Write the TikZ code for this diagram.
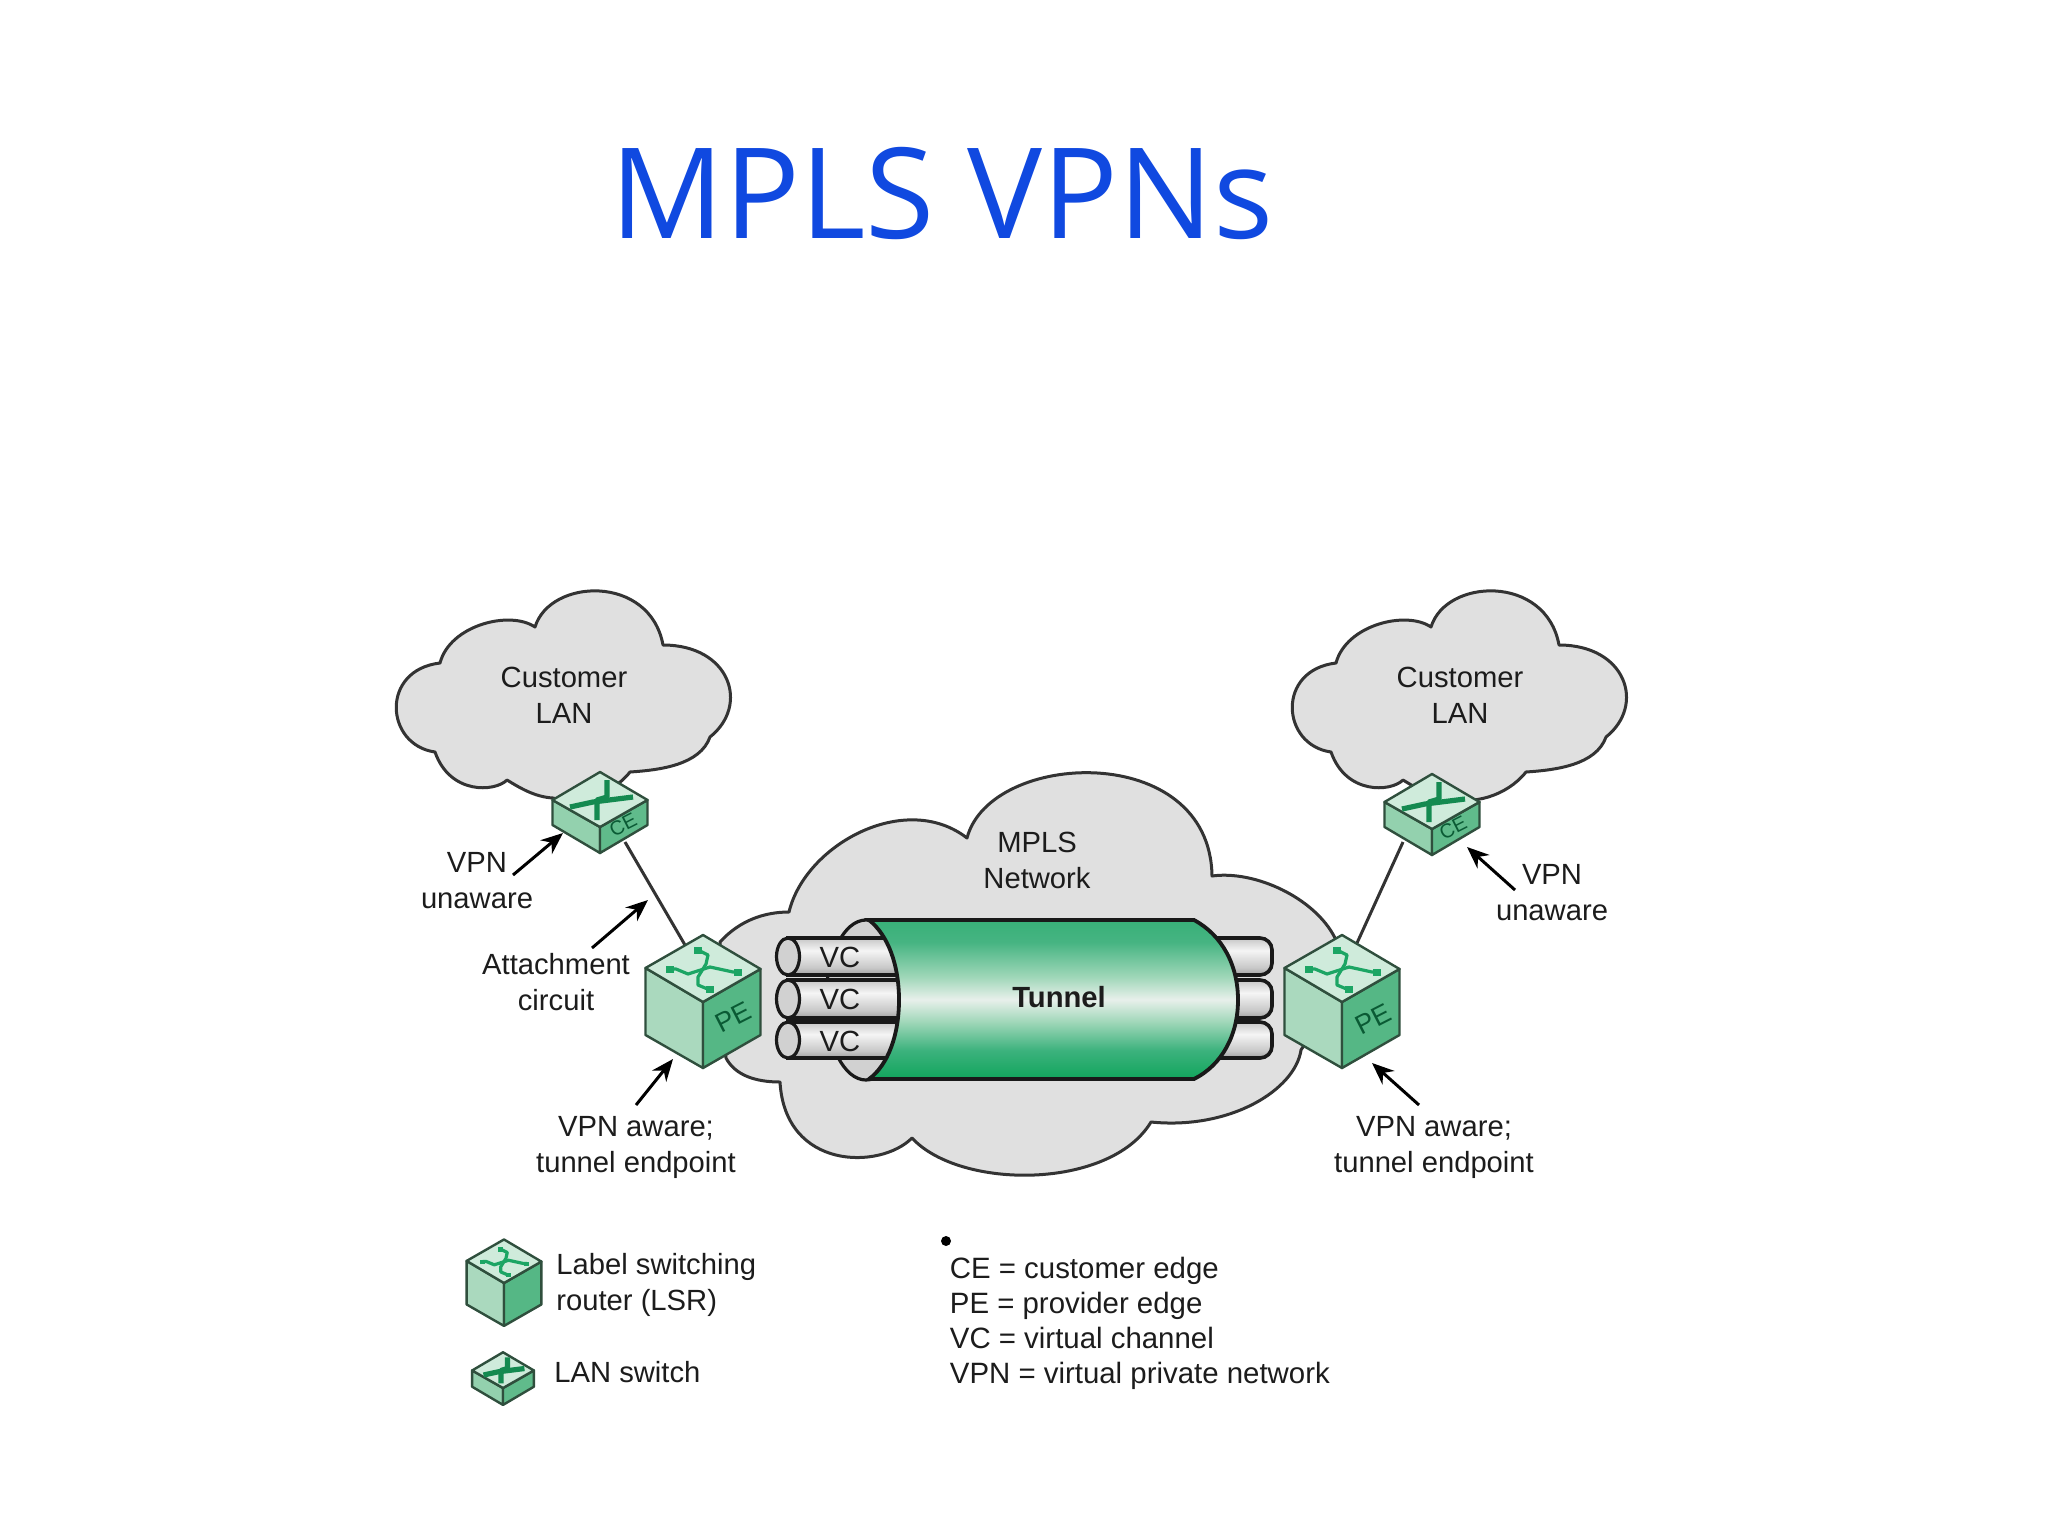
\documentclass[tikz,border=0pt]{standalone}
\usepackage{fontspec}
\setmainfont{Liberation Sans}
\newfontfamily\titlefont{Open Sans}
\usetikzlibrary{arrows.meta}
\definecolor{cloudfill}{HTML}{E0E0E0}
\definecolor{cloudline}{HTML}{333333}
\definecolor{inkc}{HTML}{1C1C1C}
\definecolor{titleblue}{HTML}{1049E0}
\definecolor{cubeedge}{HTML}{2F4F3D}
\definecolor{cubetop}{HTML}{CFEBDB}
\definecolor{cubeleft}{HTML}{AAD9BE}
\definecolor{cuberight}{HTML}{55B785}
\definecolor{swleft}{HTML}{93D1AE}
\definecolor{swright}{HTML}{60BB8B}
\definecolor{glyphg}{HTML}{1CA564}
\definecolor{glyphd}{HTML}{148A50}
\definecolor{labelg}{HTML}{0A5A34}
\definecolor{tnA}{HTML}{11A55C}
\definecolor{tnB}{HTML}{3CB27D}
\definecolor{tnC}{HTML}{A0D7B9}
\definecolor{tnD}{HTML}{E8F0EB}
\definecolor{tnE}{HTML}{46B482}
\definecolor{tnF}{HTML}{2AAC6E}
\definecolor{tbA}{HTML}{3C3C3C}
\definecolor{tbB}{HTML}{7A7A7A}
\definecolor{tbC}{HTML}{C8C8C8}
\definecolor{tbD}{HTML}{F5F5F5}
\definecolor{tbE}{HTML}{BEBEBE}
\definecolor{tbF}{HTML}{5A5A5A}
\pgfdeclareverticalshading{tunnelshade}{100bp}{
  color(0bp)=(tnA);
  color(25bp)=(tnA);
  color(34bp)=(tnB);
  color(43bp)=(tnC);
  color(50bp)=(tnD);
  color(57bp)=(tnC);
  color(68bp)=(tnE);
  color(82bp)=(tnF);
  color(100bp)=(tnF)}
\pgfdeclareverticalshading{tubeshade}{100bp}{
  color(0bp)=(tbA);
  color(15bp)=(tbB);
  color(35bp)=(tbC);
  color(58bp)=(tbD);
  color(78bp)=(tbE);
  color(100bp)=(tbF)}
\tikzset{
  x=0.5pt,y=-0.5pt,
  cloudshape/.style={draw=cloudline,fill=cloudfill,line width=1.5pt,line join=round},
  tubeedge/.style={draw=black!90,line width=1.8pt,shading=tubeshade},
  capend/.style={draw=black!90,line width=1.6pt,fill=black!18},
  tunnelbody/.style={draw=black!90,line width=1.9pt,shading=tunnelshade},
  linkline/.style={draw=cloudline,line width=1.5pt},
  callout/.style={draw=black,line width=1.5pt,-{Stealth[length=11pt,width=9pt]}},
  lab/.style={text=inkc,font=\fontsize{14.6}{18}\selectfont,align=center,inner sep=0pt},
  leftlab/.style={lab,align=left,anchor=west},
  pelabel/.style={text=labelg,font=\fontsize{13.5}{16}\selectfont,rotate=27,inner sep=0pt},
  celabel/.style={text=labelg,font=\fontsize{10}{12}\selectfont,rotate=27,inner sep=0pt},
  cubeline/.style={draw=cubeedge,line width=1.2pt,line join=round},
  lsrcube/.pic={
    \path[cubeline,fill=cubeleft] (-57.5,-34)--(0,0)--(0,66)--(-57.5,33)--cycle;
    \path[cubeline,fill=cuberight] (57.5,-33)--(0,0)--(0,66)--(57.5,33)--cycle;
    \path[cubeline,fill=cubetop] (0,-67)--(57.5,-33)--(0,0)--(-57.5,-34)--cycle;
    \draw[glyphg,line width=1.6pt,line join=round] (-33,-33)--(-27,-33)--(-15,-28)--(7,-35)--(30,-30)--(35,-30);
    \draw[glyphg,line width=1.6pt,line join=round] (-5,-52)--(5,-47)--(3,-38)--(-5,-25)--(-5,-17)--(7,-12);
    \fill[glyphg] (-37,-36) rectangle (-29,-29);
    \fill[glyphg] (31,-33) rectangle (39,-26);
    \fill[glyphg] (-9,-55) rectangle (-1,-48);
    \fill[glyphg] (3,-16) rectangle (11,-9);
  },
  lanswitch/.pic={
    \path[cubeline,fill=swleft] (-47.5,-27)--(0,0)--(0,26)--(-47.5,-2)--cycle;
    \path[cubeline,fill=swright] (47.5,-27)--(0,0)--(0,26)--(47.5,-2)--cycle;
    \path[cubeline,fill=cubetop] (0,-55)--(47.5,-27)--(0,0)--(-47.5,-27)--cycle;
    \draw[glyphd,line width=2.6pt,line join=round] (-30,-20)--(-7,-25)--(33,-30);
    \draw[glyphd,line width=2.6pt,line join=round] (7,-47)--(7,-30)--(-3,-27)--(-3,-7);
  }
}
\newcommand{\lancloud}{%
  (553,798) .. controls (535,797) and (520,788) .. (507,780)
  .. controls (495,792) and (450,795) .. (435,752)
  .. controls (385,745) and (380,670) .. (440,663)
  .. controls (450,625) and (510,610) .. (535,627)
  .. controls (550,578) and (650,574) .. (663,645)
  .. controls (730,645) and (750,705) .. (710,737)
  .. controls (700,765) and (660,770) .. (630,772)
  .. controls (610,797) and (575,805) .. (553,798) -- cycle}
\begin{document}
\begin{tikzpicture}
\useasboundingbox (0,0) rectangle (2048,1536);
\fill[white] (0,0) rectangle (2048,1536);
\node[text=titleblue,font=\titlefont\fontsize{63}{68}\selectfont,inner sep=0pt,anchor=base] (title) at (942,238) {MPLS VPNs};
% clouds
\draw[cloudshape] \lancloud;
\begin{scope}[shift={(896,0)}]
\draw[cloudshape] \lancloud;
\end{scope}
\draw[cloudshape] (720,942) .. controls (740,920) and (765,912) .. (789,912)
  .. controls (805,845) and (905,790) .. (967,838)
  .. controls (990,750) and (1210,740) .. (1212,876)
  .. controls (1255,870) and (1315,898) .. (1335,938)
  .. controls (1345,980) and (1320,1020) .. (1301,1050)
  .. controls (1295,1090) and (1230,1130) .. (1151,1122)
  .. controls (1110,1190) and (960,1190) .. (912,1138)
  .. controls (880,1170) and (785,1170) .. (780,1082)
  .. controls (755,1082) and (735,1075) .. (726,1058) -- cycle;
% tubes
\draw[capend] (866,1000) ellipse (40 and 80);
\foreach \yt/\yb in {938/975,980/1018,1022/1058}{
  \path[tubeedge,rounded corners=6pt] (1150,\yt) -- (1272,\yt) -- (1272,\yb) -- (1150,\yb) -- cycle;
  \path[tubeedge] (788,\yt) -- (910,\yt) -- (910,\yb) -- (788,\yb) -- cycle;
  \draw[capend] (788,{(\yt+\yb)/2}) ellipse (11.5 and {(\yb-\yt)/2});
}
% tunnel
\path[tunnelbody] (869,920) -- (1194,920) .. controls (1222,935) and (1238,965) .. (1238,1000)
  .. controls (1238,1035) and (1222,1065) .. (1194,1079) -- (869,1079)
  .. controls (888,1065) and (899,1035) .. (899,1000) .. controls (899,965) and (888,935) .. (869,920) -- cycle;
\node[lab] (vc1) at (840,957) {VC};
\node[lab] (vc2) at (840,999) {VC};
\node[lab] (vc3) at (840,1041) {VC};
\node[lab,font=\bfseries\fontsize{14.6}{18}\selectfont] (tunnel) at (1059,997) {Tunnel};
% links
\coordinate (ce1link) at (625,842);
\coordinate (pe1link) at (685,945);
\coordinate (ce2link) at (1403,842);
\coordinate (pe2link) at (1357,943);
\draw[linkline] (ce1link) -- (pe1link);
\draw[linkline] (ce2link) -- (pe2link);
% devices
\pic at (703,1002) {lsrcube};
\pic at (1342,1002) {lsrcube};
\pic at (600,827) {lanswitch};
\pic at (1432,829) {lanswitch};
\pic[scale=.65] at (504,1283) {lsrcube};
\pic[scale=.65] at (503,1388) {lanswitch};
\node[pelabel] (pe1) at (733,1017) {PE};
\node[pelabel] (pe2) at (1373,1019) {PE};
\node[celabel] (ce1) at (623,825) {CE};
\node[celabel] (ce2) at (1453,828) {CE};
% labels
\node[lab] (lan1) at (564,695) {Customer\\LAN};
\node[lab] (lan2) at (1460,695) {Customer\\LAN};
\node[lab] (mpls) at (1037,860) {MPLS\\Network};
\node[lab] (un1) at (477,881) {VPN\\unaware};
\node[lab] (att) at (556,982) {Attachment\\circuit};
\node[lab] (aw1) at (636,1147) {VPN aware;\\tunnel endpoint};
\node[lab] (un2) at (1552,893) {VPN\\unaware};
\node[lab] (aw2) at (1434,1147) {VPN aware;\\tunnel endpoint};
\node[leftlab] (lsrtxt) at (556,1285) {Label switching\\router (LSR)};
\node[leftlab] (lantxt) at (554,1372) {LAN switch};
\node[leftlab,font=\fontsize{14.7}{17.5}\selectfont] (keytxt) at (949.5,1323) {CE = customer edge\\PE = provider edge\\VC = virtual channel\\VPN = virtual private network};
\fill[black] (946,1241) circle (5);
% callouts
\coordinate (a1s) at (513,875); \coordinate (a1e) at (563,833);
\coordinate (a2s) at (592,948); \coordinate (a2e) at (648,900);
\coordinate (a3s) at (636,1105); \coordinate (a3e) at (673,1059);
\coordinate (a4s) at (1515,890); \coordinate (a4e) at (1467,847);
\coordinate (a5s) at (1419,1105); \coordinate (a5e) at (1372,1063);
\draw[callout] (a1s) -- (a1e);
\draw[callout] (a2s) -- (a2e);
\draw[callout] (a3s) -- (a3e);
\draw[callout] (a4s) -- (a4e);
\draw[callout] (a5s) -- (a5e);
\end{tikzpicture}
\end{document}
